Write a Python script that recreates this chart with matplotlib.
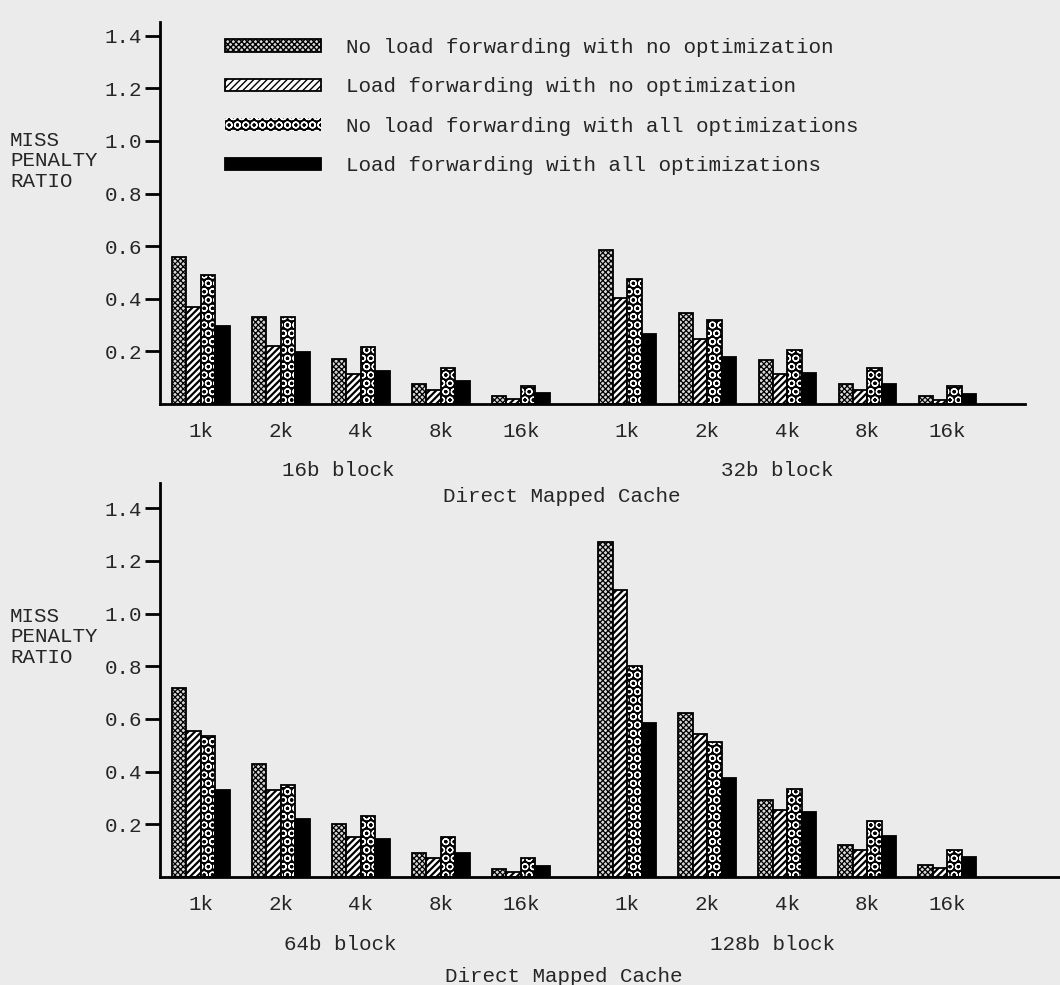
import numpy as np
import matplotlib
matplotlib.use("Agg")
import matplotlib.pyplot as plt

plt.rcParams['font.family'] = ['Liberation Mono', 'DejaVu Sans Mono']

# cache sizes (x tick labels) and series names
sizes = ["1k", "2k", "4k", "8k", "16k"]
series = ["No load forwarding with no optimization",
          "Load forwarding with no optimization",
          "No load forwarding with all optimizations",
          "Load forwarding with all optimizations"]
blocks_top = ["16b block", "32b block"]
blocks_bottom = ["64b block", "128b block"]

# miss penalty ratio, one row per series, columns = 1k..16k
b16 = [[0.56, 0.33, 0.17, 0.076, 0.030],
       [0.37, 0.22, 0.113, 0.053, 0.018],
       [0.49, 0.33, 0.216, 0.136, 0.069],
       [0.295, 0.197, 0.127, 0.088, 0.041]]
b32 = [[0.585, 0.345, 0.168, 0.075, 0.029],
       [0.403, 0.246, 0.113, 0.053, 0.015],
       [0.474, 0.319, 0.206, 0.136, 0.069],
       [0.266, 0.179, 0.117, 0.075, 0.039]]
b64 = [[0.718, 0.429, 0.201, 0.093, 0.029],
       [0.556, 0.330, 0.152, 0.071, 0.019],
       [0.537, 0.350, 0.232, 0.152, 0.071],
       [0.330, 0.222, 0.144, 0.093, 0.040]]
b128 = [[1.272, 0.621, 0.294, 0.123, 0.044],
        [1.091, 0.542, 0.253, 0.101, 0.034],
        [0.802, 0.514, 0.335, 0.214, 0.104],
        [0.583, 0.377, 0.246, 0.157, 0.076]]

W, H = 1060, 985
bg = '#ebebeb'
txt = '#262626'
fig = plt.figure(figsize=(W / 100, H / 100), dpi=100, facecolor=bg)

bw = 0.18
group_left = np.concatenate([np.arange(5), 5.33 + np.arange(5)])


def px(x, y):
    return x / W, 1 - y / H


def draw_bars(ax, left_data, right_data):
    vals = np.hstack([np.array(left_data), np.array(right_data)])
    handles = []
    for i in range(4):
        xs = group_left + i * bw
        if i == 0:
            with plt.rc_context({'hatch.linewidth': 0.9}):
                h = ax.bar(xs, vals[i], bw, align='edge', color='#d8d8d8',
                           edgecolor='black', hatch='xxxxxx', linewidth=1.3)
        elif i == 1:
            with plt.rc_context({'hatch.linewidth': 1.6}):
                h = ax.bar(xs, vals[i], bw, align='edge', color='white',
                           edgecolor='black', hatch='/////', linewidth=1.3)
        elif i == 2:
            with plt.rc_context({'hatch.color': 'white', 'hatch.linewidth': 0.9}):
                h = ax.bar(xs, vals[i], bw, align='edge', color='black',
                           hatch='OO', linewidth=0)
            ax.bar(xs, vals[i], bw, align='edge', fill=False,
                   edgecolor='black', linewidth=1.3)
        else:
            h = ax.bar(xs, vals[i], bw, align='edge', color='black',
                       edgecolor='black', linewidth=1.3)
        handles.append(h)
    ax.set_xticks(group_left + 2 * bw)
    ax.set_xticklabels(sizes * 2, fontsize=15, color=txt)
    ax.tick_params(axis='x', length=0, pad=13)
    ax.set_yticks([0.2, 0.4, 0.6, 0.8, 1.0, 1.2, 1.4])
    ax.set_yticklabels(['0.2', '0.4', '0.6', '0.8', '1.0', '1.2', '1.4'],
                       fontsize=15, color=txt)
    ax.tick_params(axis='y', length=11, width=2, direction='out', pad=2)
    for s in ['top', 'right']:
        ax.spines[s].set_visible(False)
    for s in ['left', 'bottom']:
        ax.spines[s].set_linewidth(2)
    ax.set_facecolor('none')
    return handles


# top panel
ax1 = fig.add_axes([160 / W, (H - 404) / H, 865 / W, 382 / H])
hs = draw_bars(ax1, b16, b32)
ax1.set_xlim(-0.15, 10.66)
ax1.set_ylim(0, 1.452)

# bottom panel
ax2 = fig.add_axes([160 / W, (H - 877) / H, 900 / W, 394 / H])
draw_bars(ax2, b64, b128)
ax2.set_xlim(-0.15, 11.1)
ax2.set_ylim(0, 1.496)

leg = ax1.legend(hs, series, loc='upper left', bbox_to_anchor=px(225, 38),
                 bbox_transform=fig.transFigure, frameon=False, fontsize=15,
                 handlelength=4.6, handleheight=0.55, handletextpad=1.2,
                 labelspacing=0.98, borderpad=0, borderaxespad=0)
for t in leg.get_texts():
    t.set_color(txt)

# group labels and axis titles
fig.text(*px(338, 470), blocks_top[0], fontsize=15, color=txt, ha='center', va='center')
fig.text(*px(777, 470), blocks_top[1], fontsize=15, color=txt, ha='center', va='center')
fig.text(*px(562, 497), "Direct Mapped Cache", fontsize=15, color=txt, ha='center', va='center')
fig.text(*px(340, 945), blocks_bottom[0], fontsize=15, color=txt, ha='center', va='center')
fig.text(*px(772, 945), blocks_bottom[1], fontsize=15, color=txt, ha='center', va='center')
fig.text(*px(564, 977), "Direct Mapped Cache", fontsize=15, color=txt, ha='center', va='center')

fig.text(*px(10, 161), "MISS\nPENALTY\nRATIO", fontsize=15, color=txt,
         ha='left', va='center', linespacing=1.08)
fig.text(*px(10, 637), "MISS\nPENALTY\nRATIO", fontsize=15, color=txt,
         ha='left', va='center', linespacing=1.08)

plt.savefig('out.png', dpi=100, facecolor=bg)
